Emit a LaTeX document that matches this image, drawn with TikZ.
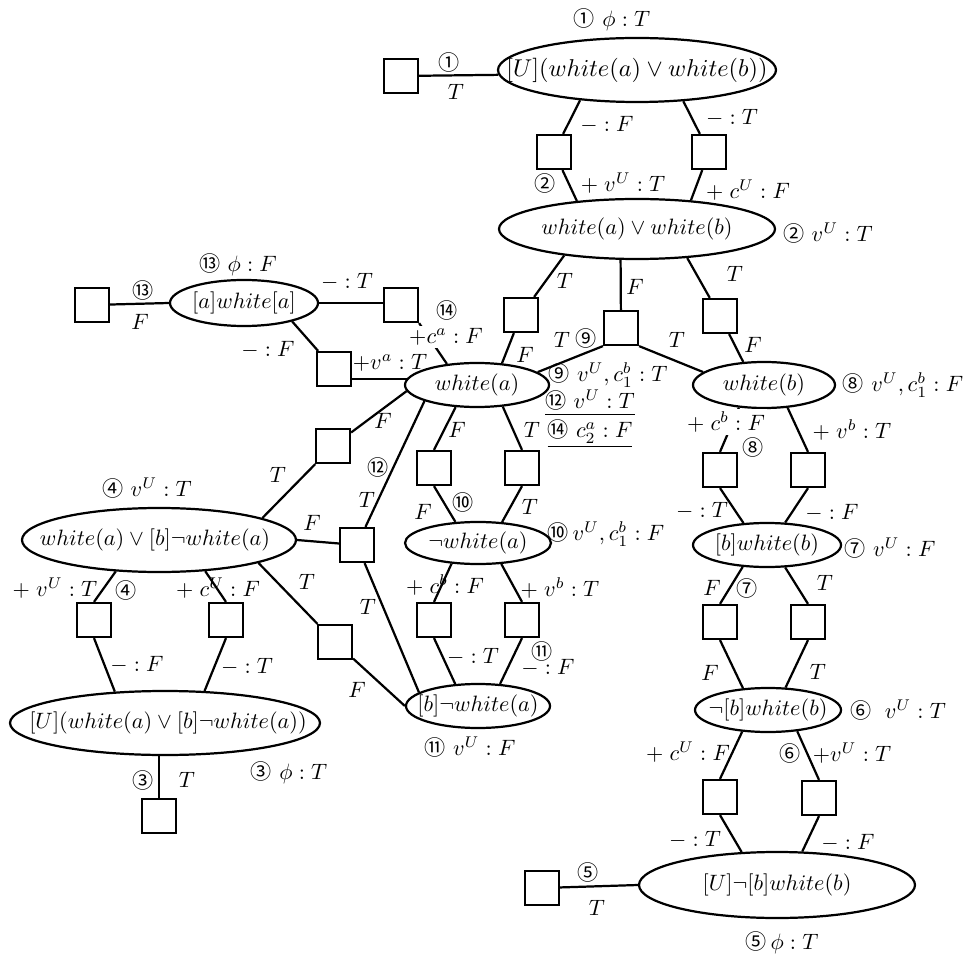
\documentclass[tikz,border=0pt]{standalone}
\usepackage{fontspec}
\newfontfamily\cjkf{Noto Sans CJK JP}
\usetikzlibrary{shapes.geometric}
\newcommand{\cn}[1]{{\cjkf\fontsize{9.5}{11}\selectfont #1}}
\newcommand{\cns}[1]{\smash{\cn{#1}}}
\begin{document}
\begin{tikzpicture}[x=0.45pt,y=-0.45pt, line width=1pt,
  sq/.style={draw, minimum size=15.3pt, inner sep=0pt},
  ell/.style 2 args={draw, ellipse, inner sep=0pt, minimum width=#1*0.9pt, minimum height=#2*0.9pt},
  et/.style={inner sep=0pt, font=\fontsize{10}{12}\selectfont},
  lb/.style={inner sep=0.5pt, font=\fontsize{10}{12}\selectfont},
  lbw/.style={lb, fill=white, inner sep=1pt},
]
\fill[white] (0,0) rectangle (967,954);
\useasboundingbox (0,0) rectangle (967,954);

% ellipses
\node[ell={139}{32}] (E1) at (637,70) {};
\node[et, font=\fontsize{10.7}{13}\selectfont] (E1t) at (E1) {$[U](white(a)\vee white(b))$};
\node[ell={138}{30}] (E2) at (637,229) {};
\node[et] (E2t) at (E2) {$white(a)\vee white(b)$};
\node[ell={74}{23}] (E13) at (244,303) {};
\node[et] (E13t) at (E13) {$[a]white[a]$};
\node[ell={72}{22}] (Ea) at (477,385) {};
\node[et] (Eat) at (Ea) {$white(a)$};
\node[ell={71}{23}] (Eb) at (764,385) {};
\node[et] (Ebt) at (Eb) {$white(b)$};
\node[ell={137}{32}] (E4) at (159,540) {};
\node[et] (E4t) at (155,540) {$white(a)\vee[b]\neg white(a)$};
\node[ell={73}{21}] (E10) at (478,543) {};
\node[et] (E10t) at (E10) {$\neg white(a)$};
\node[ell={74}{22}] (E7) at (767,545) {};
\node[et] (E7t) at (E7) {$[b]white(b)$};
\node[ell={155}{32}] (E3) at (165,723) {};
\node[et] (E3t) at (168,723) {$[U](white(a)\vee[b]\neg white(a))$};
\node[ell={72}{22}] (E11) at (478,706) {};
\node[et] (E11t) at (E11) {$[b]\neg white(a)$};
\node[ell={73}{22}] (E6) at (768,710) {};
\node[et] (E6t) at (E6) {$\neg[b]white(b)$};
\node[ell={138}{33}] (E5) at (777,885) {};
\node[et] (E5t) at (E5) {$[U]\neg[b]white(b)$};

% squares
\node[sq] (S1) at (401,76) {};
\node[sq] (S1a) at (554,152) {};
\node[sq] (S1b) at (709,152) {};
\node[sq] (S2a) at (521,315) {};
\node[sq] (S2b) at (621,328) {};
\node[sq] (S2c) at (720,316) {};
\node[sq] (S13) at (92,305) {};
\node[sq] (S13a) at (401,305) {};
\node[sq] (S13b) at (334,369) {};
\node[sq] (SaL) at (333,446) {};
\node[sq] (Smid) at (357,545) {};
\node[sq] (Slow) at (335,642) {};
\node[sq] (S4a) at (94,620) {};
\node[sq] (S4b) at (226,620) {};
\node[sq] (S3) at (159,816) {};
\node[sq] (S10a) at (434,468) {};
\node[sq] (S10b) at (522,468) {};
\node[sq] (S11a) at (434,620) {};
\node[sq] (S11b) at (522,620) {};
\node[sq] (S8a) at (720,470) {};
\node[sq] (S8b) at (808,470) {};
\node[sq] (S7a) at (720,622) {};
\node[sq] (S7b) at (808,622) {};
\node[sq] (S6a) at (720,797) {};
\node[sq] (S6b) at (819,798) {};
\node[sq] (S5) at (542,888) {};

% connectors
\draw (S1) -- (E1.182.5);
\draw (E1.208) -- (S1a);
\draw (S1a) -- (E2.155);
\draw (E1.326.6) -- (S1b);
\draw (S1b) -- (E2.28.7);
\draw (E2.200) -- (S2a);
\draw (S2a) -- (Ea.41);
\draw (E2.242) -- (S2b);
\draw (S2b.south west) -- (Ea.12);
\draw (S2b.south east) -- (Eb.168);
\draw (E2.330.4) -- (S2c);
\draw (S2c) -- (Eb.132);
\draw (S13) -- (E13.west);
\draw (E13.east) -- (E13.east -| S13a.west);
\draw (E13.339.7) -- (S13b);
\draw (S13a.south east) -- (Ea.145);
\draw (Ea.175 -| S13b.east) -- (Ea.175);
\draw (Ea.185) -- (SaL);
\draw (SaL) -- (E4.12);
\draw (Ea.197) -- (Smid);
\draw (E4.east) -- (Smid);
\draw (Smid) -- (E11.167);
\draw (E4.347) -- (Slow);
\draw (Slow) -- (E11.west);
\draw (E4.216) -- (S4a.north);
\draw (S4a.south) -- (E3.148);
\draw (E4.326) -- (S4b.north);
\draw (S4b.south) -- (E3.39);
\draw (S3.north) -- (S3.north |- E3.south);
\draw (Ea.226) -- (S10a.north);
\draw (S10a.south) -- (E10.137);
\draw (Ea.320) -- (S10b.north);
\draw (S10b.south) -- (E10.41);
\draw (E10.218) -- (S11a.north);
\draw (S11a.south) -- (E11.136);
\draw (E10.318) -- (S11b.north);
\draw (S11b.south) -- (E11.45);
\draw (Eb.222) -- (S8a.north);
\draw (S8a.south) -- (E7.137);
\draw (Eb.316) -- (S8b.north);
\draw (S8b.south) -- (E7.51);
\draw (E7.222) -- (S7a.north);
\draw (S7a.south) -- (E6.139);
\draw (E7.309) -- (S7b.north);
\draw (S7b.south) -- (E6.52);
\draw (E6.220) -- (S6a.north);
\draw (S6a.south) -- (E5.137.6);
\draw (E6.324) -- (S6b.north);
\draw (S6b.south) -- (E5.53);
\draw (S5) -- (E5.west);

% labels
\node[lb] (l1) at (612,20) {\cn{①} $\phi : T$};
\node[lb] (l2) at (449,62) {\cn{①}};
\node[lb] (l3) at (456,92) {$T$};
\node[lb] (l4) at (607,125) {$- : F$};
\node[lb] (l5) at (732,118) {$- : T$};
\node[lb] (l6) at (545,183) {\cn{②}};
\node[lb] (l7) at (623,183) {$+\;v^U : T$};
\node[lb] (l8) at (748,190) {$+\;c^U : F$};
\node[lb] (l9) at (828,233) {\cn{②} $v^U : T$};
\node[lb] (l10) at (565,281) {$T$};
\node[lb] (l11) at (635,287) {$F$};
\node[lb] (l12) at (735,274) {$T$};
\node[lb] (l13) at (525,355) {$F$};
\node[lb] (l14) at (562,340) {$T$};
\node[lb] (l15) at (586,338) {\cn{⑨}};
\node[lb] (l16) at (677,340) {$T$};
\node[lb] (l17) at (753,345) {$F$};
\node[lb] (l18) at (608,375) {\cns{⑨} $v^U, c_1^b : T$};
\node[lb] (l19) at (590,403) {\underline{\cns{⑫} $v^U : T$\vphantom{$c_2$}}};
\node[lb] (l20) at (590,435) {\underline{\cns{⑭} $c_2^a : F$}};
\node[lb] (l21) at (903,385) {\cn{⑧} $v^U, c_1^b : F$};
\node[lb] (l22) at (238,265) {\cn{⑬} $\phi : F$};
\node[lb] (l23) at (143,290) {\cn{⑬}};
\node[lb] (l24) at (140,322) {$F$};
\node[lb] (l25) at (347,282) {$- : T$};
\node[lb] (l26) at (268,350) {$- : F$};
\node[lb] (l27) at (447,310) {\cn{⑭}};
\node[lbw] (l28) at (446,337) {$+c^a : F$};
\node[lb] (l29) at (390,363) {$+v^a : T$};
\node[lb] (l30) at (383,421) {$F$};
\node[lb] (l31) at (147,488) {\cn{④} $v^U : T$};
\node[lb] (l32) at (278,475) {$T$};
\node[lb] (l33) at (312,523) {$F$};
\node[lb] (l34) at (378,467) {\cn{⑫}};
\node[lb] (l35) at (367,500) {$T$};
\node[lb] (l36) at (307,582) {$T$};
\node[lb] (l37) at (368,607) {$T$};
\node[lb] (l38) at (357,690) {$F$};
\node[lb] (l39) at (55,588) {$+\;v^U : T$};
\node[lb] (l40) at (126,590) {\cn{④}};
\node[lb] (l41) at (218,588) {$+\;c^U : F$};
\node[lb] (l42) at (137,665) {$- : F$};
\node[lb] (l43) at (247,667) {$- : T$};
\node[lb] (l44) at (143,780) {\cn{③}};
\node[lb] (l45) at (187,780) {$T$};
\node[lb] (l46) at (289,773) {\cn{③} $\phi : T$};
\node[lb] (l47) at (457,430) {$F$};
\node[lb] (l48) at (532,430) {$T$};
\node[lb] (l49) at (423,512) {$F$};
\node[lb] (l50) at (463,502) {\cn{⑩}};
\node[lb] (l51) at (530,507) {$T$};
\node[lb] (l52) at (606,534) {\cns{⑩}\,$v^U, c_1^b : F$};
\node[lb] (l53) at (445,585) {$+\;c^b : F$};
\node[lb] (l54) at (560,588) {$+\;v^b : T$};
\node[lb] (l55) at (473,657) {$- : T$};
\node[lb] (l56) at (542,651) {\cn{⑪}};
\node[lb] (l57) at (548,668) {$- : F$};
\node[lb] (l58) at (470,747) {\cn{⑪} $v^U : F$};
\node[lbw] (l59) at (726,422) {$+\;c^b : F$};
\node[lb] (l60) at (753,447) {\cn{⑧}};
\node[lb] (l61) at (852,430) {$+\;v^b : T$};
\node[lb] (l62) at (702,511) {$- : T$};
\node[lb] (l63) at (832,513) {$- : F$};
\node[lb] (l64) at (890,548) {\cn{⑦} $v^U : F$};
\node[lb] (l65) at (712,588) {$F$};
\node[lb] (l66) at (747,588) {\cn{⑦}};
\node[lb] (l67) at (825,583) {$T$};
\node[lb] (l68) at (710,673) {$F$};
\node[lb] (l69) at (818,672) {$T$};
\node[lb] (l70) at (898,710) {\cn{⑥}\; $v^U : T$};
\node[lb] (l71) at (688,752) {$+\;c^U : F$};
\node[lb] (l72) at (790,753) {\cn{⑥}};
\node[lb] (l73) at (852,753) {$+v^U : T$};
\node[lb] (l74) at (695,840) {$- : T$};
\node[lb] (l75) at (848,843) {$- : F$};
\node[lb] (l76) at (588,872) {\cn{⑤}};
\node[lb] (l77) at (597,908) {$T$};
\node[lb] (l78) at (782,943) {\cn{⑤}$\,\phi : T$};
\end{tikzpicture}
\end{document}
